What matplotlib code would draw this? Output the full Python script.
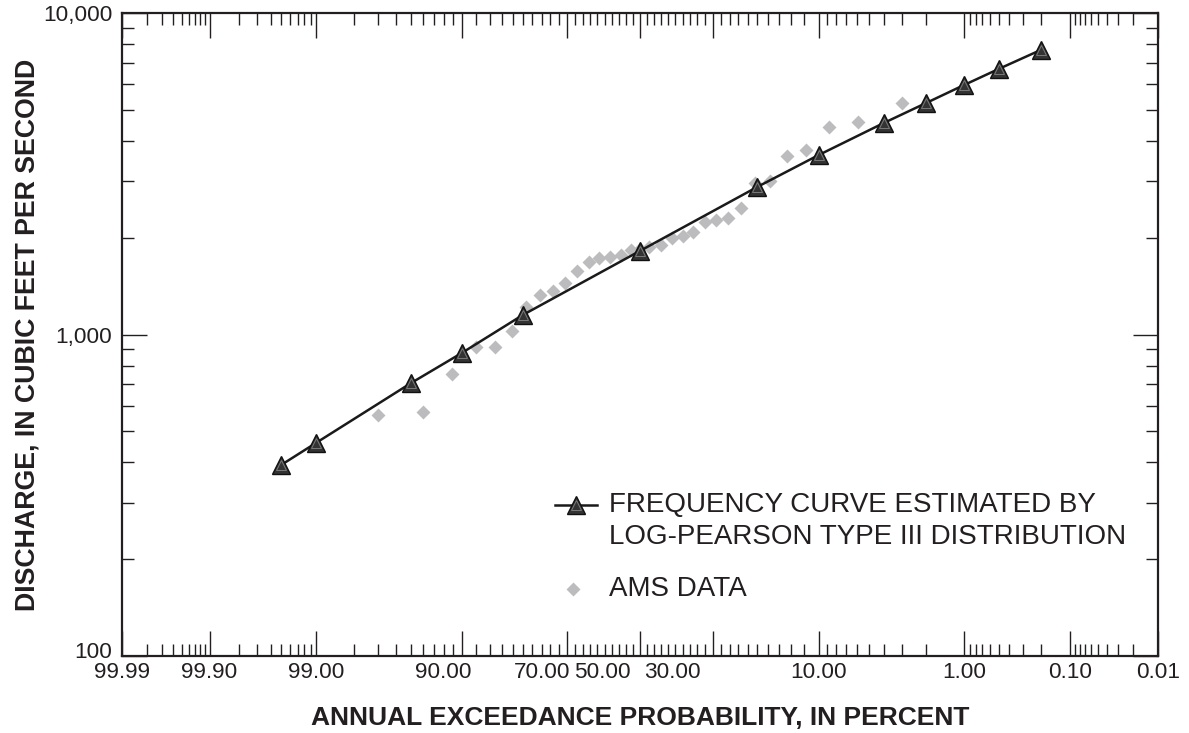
import numpy as np
import matplotlib
matplotlib.use('Agg')
import matplotlib.pyplot as plt
from matplotlib.transforms import ScaledTranslation
from statistics import NormalDist

# log-Pearson Type III frequency curve: AEP (percent) and discharge (ft3/s)
curve_aep = [99.5, 99.0, 95.0, 90.0, 80.0, 50.0, 20.0, 10.0, 4.0, 2.0, 1.0, 0.5, 0.2]
curve_q = [393, 460, 706, 875, 1150, 1820, 2877, 3614, 4550, 5248, 5970, 6700, 7677]

# annual maximum series at their plotting positions
ams_aep = [97.0, 94.0, 91.1, 88.0, 85.1, 82.1, 79.3, 76.3, 73.4, 70.5, 67.4,
           64.3, 61.6, 58.5, 55.4, 52.6, 50.0, 47.4, 44.0, 40.9, 37.9, 35.2,
           32.1, 29.3, 26.4, 23.5, 20.5, 17.6, 14.6, 11.7, 8.8, 5.9, 3.0]
ams_q = [562, 574, 753, 914, 912, 1025, 1218, 1328, 1365, 1445, 1576,
         1681, 1730, 1742, 1767, 1832, 1850, 1872, 1898, 1995, 2024, 2083,
         2240, 2271, 2303, 2475, 2958, 3002, 3590, 3749, 4414, 4581, 5248]

x_major = [99.99, 99.9, 99.0, 90.0, 70.0, 50.0, 30.0, 10.0, 1.0, 0.1, 0.01]
x_labels = ['99.99', '99.90', '99.00', '90.00', '70.00', '50.00', '30.00',
            '10.00', '1.00', '0.10', '0.01']
# shift (points) of some labels to the left of their tick
x_label_shift = {'90.00': -13.5, '70.00': -18.0, '50.00': -27.0, '30.00': -29.5}

x_minor = np.concatenate([
    np.arange(99.91, 99.985, 0.01),
    np.arange(99.1, 99.85, 0.1),
    np.arange(91, 99, 1),
    np.arange(72, 89, 2),
    np.arange(52, 69, 2),
    np.arange(32, 49, 2),
    np.arange(12, 29, 2),
    np.arange(2, 10, 1),
    np.arange(0.2, 0.95, 0.1),
    np.arange(0.02, 0.095, 0.01),
])

_nd = NormalDist()
_ppf = np.vectorize(_nd.inv_cdf, otypes=[float])
_cdf = np.vectorize(_nd.cdf, otypes=[float])


def prob_fwd(p):
    q = np.clip(1.0 - np.asarray(p, dtype=float) / 100.0, 1e-9, 1 - 1e-9)
    return _ppf(q)


def prob_inv(z):
    return 100.0 * (1.0 - _cdf(np.asarray(z, dtype=float)))


plt.rcParams['font.family'] = ['Liberation Sans', 'DejaVu Sans']
ink = '#231f20'

fig = plt.figure(figsize=(11.89, 7.33), dpi=100)
ax = fig.add_axes([0.1026, 0.105, 0.8714, 0.8773])

ax.plot(ams_aep, ams_q, linestyle='none', marker='D', ms=7.2,
        mfc='#bcbcbe', mec='none', zorder=2)
ax.plot(curve_aep, curve_q, color='#1a1a1a', lw=1.8, marker='^', ms=13,
        mfc='#333333', mec='#111111', mew=1.0, zorder=3)
ax.plot(curve_aep, curve_q, linestyle='none', marker='^', ms=6.5,
        mfc='none', mec='#7a7a7a', mew=0.7, zorder=4)

ax.set_xscale('function', functions=(prob_fwd, prob_inv))
ax.set_yscale('log')
ax.set_xlim(0.01, 99.99)
ax.set_ylim(100, 10000)

ax.set_xticks(x_major)
ax.set_xticklabels(x_labels)
ax.set_xticks(x_minor, minor=True)
ax.set_yticks([100, 1000, 10000])
ax.set_yticklabels(['100', '1,000', '10,000'])
ax.set_yticks([k * d for d in (100, 1000) for k in range(2, 10)], minor=True)
ax.yaxis.set_minor_formatter(plt.NullFormatter())

ax.tick_params(which='both', direction='in', top=True, right=True,
               width=1.0, color=ink, labelcolor=ink, labelsize=16.2)
ax.tick_params(which='major', length=18)
ax.tick_params(which='minor', length=8.5)
ax.tick_params(axis='x', which='major', pad=4)
ax.tick_params(axis='y', which='major', pad=7)
for s in ax.spines.values():
    s.set_linewidth(1.6)
    s.set_color(ink)

for lab in ax.get_xticklabels():
    dx = x_label_shift.get(lab.get_text())
    if dx:
        lab.set_transform(lab.get_transform()
                          + ScaledTranslation(dx / 72, 0, fig.dpi_scale_trans))

# lift the bottom y label a little so it clears "99.99"
for lab in ax.get_yticklabels():
    if lab.get_text() == '100':
        lab.set_transform(lab.get_transform()
                          + ScaledTranslation(0, 4 / 72, fig.dpi_scale_trans))

ax.set_xlabel('ANNUAL EXCEEDANCE PROBABILITY, IN PERCENT', fontsize=19,
              fontweight='bold', color=ink, labelpad=17)
ax.set_ylabel('DISCHARGE, IN CUBIC FEET PER SECOND', fontsize=19.3,
              fontweight='bold', color=ink, labelpad=2)

# legend
ax.plot([0.418, 0.4585], [0.2348, 0.2348], transform=ax.transAxes,
        color='#1a1a1a', lw=1.8, clip_on=False)
ax.plot([0.438], [0.2348], transform=ax.transAxes, marker='^', ms=13,
        mfc='#333333', mec='#111111', mew=1.0, clip_on=False)
ax.plot([0.438], [0.2348], transform=ax.transAxes, marker='^', ms=6.5,
        mfc='none', mec='#7a7a7a', mew=0.7, clip_on=False)
ax.text(0.470, 0.2348, 'FREQUENCY CURVE ESTIMATED BY', transform=ax.transAxes,
        fontsize=20, va='center', ha='left', color=ink)
ax.text(0.470, 0.185, 'LOG-PEARSON TYPE III DISTRIBUTION',
        transform=ax.transAxes, fontsize=20, va='center', ha='left', color=ink)
ax.plot([0.435], [0.1035], transform=ax.transAxes, marker='D', ms=7.2,
        mfc='#bcbcbe', mec='none', clip_on=False)
ax.text(0.470, 0.1035, 'AMS DATA', transform=ax.transAxes,
        fontsize=20, va='center', ha='left', color=ink)

fig.savefig('out.png', dpi=100)
